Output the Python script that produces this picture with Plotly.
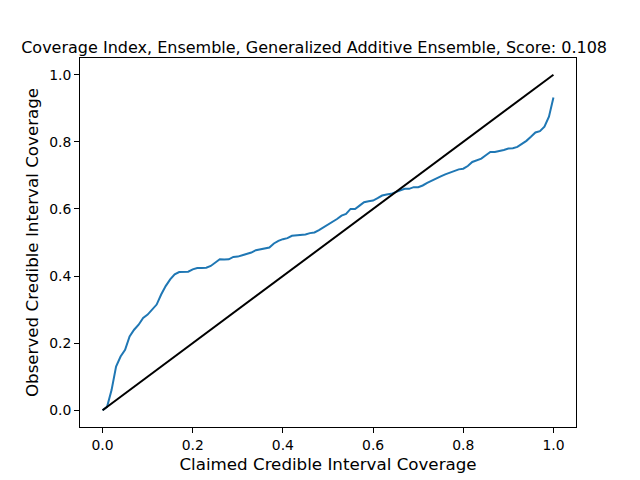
import plotly.graph_objects as go

claimed = [round(i * 0.01, 2) for i in range(101)]
observed = [
    0.000, 0.010, 0.060, 0.130, 0.160, 0.180, 0.220, 0.240, 0.255, 0.275,
    0.285, 0.300, 0.315, 0.345, 0.370, 0.390, 0.405, 0.412, 0.412, 0.413,
    0.420, 0.424, 0.424, 0.425, 0.430, 0.440, 0.450, 0.449, 0.450, 0.457,
    0.458, 0.462, 0.466, 0.470, 0.477, 0.480, 0.481, 0.485, 0.497, 0.505,
    0.510, 0.513, 0.520, 0.521, 0.521, 0.524, 0.528, 0.530, 0.537, 0.545,
    0.553, 0.562, 0.570, 0.580, 0.585, 0.600, 0.600, 0.610, 0.620, 0.623,
    0.625, 0.632, 0.640, 0.643, 0.645, 0.650, 0.655, 0.660, 0.660, 0.665,
    0.665, 0.670, 0.678, 0.685, 0.690, 0.697, 0.703, 0.708, 0.715, 0.718,
    0.720, 0.728, 0.740, 0.745, 0.750, 0.760, 0.770, 0.770, 0.772, 0.776,
    0.780, 0.781, 0.785, 0.793, 0.803, 0.815, 0.828, 0.832, 0.845, 0.875,
    0.932,
]
diag_x = [0.0, 1.0]
diag_y = [0.0, 1.0]

title = "Coverage Index, Ensemble, Generalized Additive Ensemble, Score: 0.108"
x_label = "Claimed Credible Interval Coverage"
y_label = "Observed Credible Interval Coverage"

fig = go.Figure()
fig.add_trace(go.Scatter(x=claimed, y=observed, mode="lines",
                         line=dict(color="#1f77b4", width=2), showlegend=False))
fig.add_trace(go.Scatter(x=diag_x, y=diag_y, mode="lines",
                         line=dict(color="black", width=2), showlegend=False))

axis_common = dict(
    showgrid=False, zeroline=False, showline=True, linecolor="black",
    linewidth=1, mirror=True, ticks="outside", ticklen=5, tickwidth=1,
    tickcolor="black", tickfont=dict(family="DejaVu Sans", size=13.9, color="black"),
    tickformat=".1f", dtick=0.2, tick0=0, automargin=False,
)
fig.update_xaxes(range=[-0.05, 1.05], title=dict(text=x_label, font=dict(family="DejaVu Sans", size=16.7, color="black"), standoff=6), **axis_common)
fig.update_yaxes(range=[-0.05, 1.05], title=dict(text=y_label, font=dict(family="DejaVu Sans", size=16.7, color="black"), standoff=6), **axis_common)

fig.update_layout(
    width=640, height=480,
    margin=dict(l=72, r=72, t=49.6, b=60.8),
    paper_bgcolor="white", plot_bgcolor="white",
    title=dict(text=title, font=dict(family="DejaVu Sans", size=16, color="black"),
               x=0.472, xref="paper", xanchor="center",
               y=1 - 45 / 480, yref="container", yanchor="bottom"),
)
fig.write_html("out.html")
